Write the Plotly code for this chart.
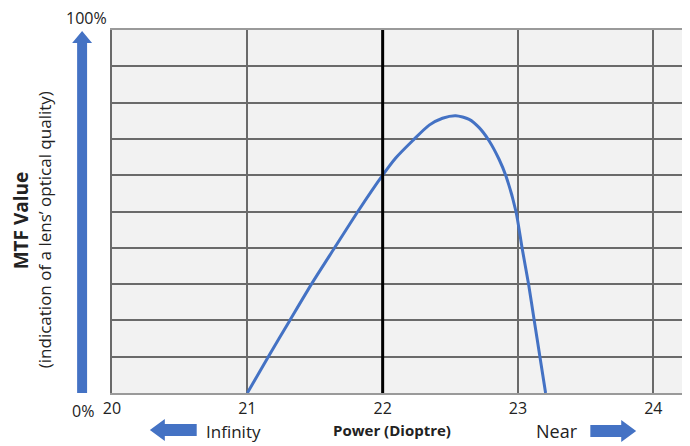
import plotly.graph_objects as go

# ---- data ----
power = [21.0, 21.155, 21.314, 21.474, 21.645, 21.817, 22.0, 22.098, 22.221, 22.344,
         22.442, 22.54, 22.639, 22.713, 22.786, 22.86, 22.909, 22.985, 23.03,
         23.078, 23.12, 23.162, 23.204]
mtf = [0, 10, 20, 30, 40, 50, 60, 64.8, 69.5, 73.8,
       75.7, 76.4, 75.4, 73.1, 69.5, 64.4, 60, 50, 40,
       30, 20, 10, 0]
x_ticks = [20, 21, 22, 23, 24]
highlight_power = 22

# ---- geometry (window pixels; page body has an 8px margin) ----
OFF = 8
W, H = 690 - OFF, 446 - OFF
L, T = 112 - OFF, 30 - OFF
B = H - (393 - OFF)
R = 0
PW, PH = W - L - R, H - T - B


def px(x):
    return (x - OFF - L) / PW


def py(y):
    return (H - B - (y - OFF)) / PH


BLUE = "#4472C4"
FONT = "Open Sans"
TXT = "#222222"

fig = go.Figure()
fig.add_trace(go.Scatter(x=power, y=mtf, mode="lines",
                         line=dict(color=BLUE, width=3, shape="spline", smoothing=0.7),
                         hoverinfo="skip", showlegend=False))

fig.add_shape(type="line", xref="x", yref="paper", x0=highlight_power, x1=highlight_power,
              y0=0, y1=1, line=dict(color="black", width=3), layer="above")


def arrow_path(pts):
    return "M " + " L ".join(f"{px(a):.5f},{py(b):.5f}" for a, b in pts) + " Z"


shapes_pts = [
    # up arrow
    [(77, 393), (77, 43), (72, 43), (82, 31), (92, 43), (87, 43), (87, 393)],
    # left arrow
    [(197, 424), (165, 424), (165, 419), (150, 430), (165, 441), (165, 436), (197, 436)],
    # right arrow
    [(592, 425), (623, 425), (623, 420), (638, 431), (623, 442), (623, 437), (592, 437)],
]
for pts in shapes_pts:
    fig.add_shape(type="path", xref="paper", yref="paper", path=arrow_path(pts),
                  fillcolor=BLUE, line=dict(width=0))

ann = [
    dict(text="100%", x=86, y=18, size=16, angle=0),
    dict(text="0%", x=83, y=411, size=16, angle=0),
    dict(text="Infinity", x=234, y=431, size=17, angle=0),
    dict(text="Near", x=559, y=431, size=18, angle=0),
    dict(text="<b>Power (Dioptre)</b>", x=393, y=430, size=15, angle=0),
    dict(text="<b>MTF Value</b>", x=21, y=220, size=19, angle=-90),
    dict(text="(indication of a lens’ optical quality)", x=44, y=230, size=17, angle=-90),
]
for a in ann:
    fig.add_annotation(text=a["text"], x=px(a["x"]), y=py(a["y"]), xref="paper", yref="paper",
                       showarrow=False, textangle=a["angle"], xanchor="center", yanchor="middle",
                       font=dict(family=FONT, size=a["size"], color=TXT))

grid_color = "#6a6a6a"
fig.update_xaxes(range=[20, 20 + (690 - 112) / 135.8], tickvals=x_ticks,
                 ticktext=[str(v) for v in x_ticks],
                 showgrid=True, gridcolor=grid_color, gridwidth=1.7, zeroline=False,
                 showline=True, linecolor="#9a9a9a", linewidth=1.5, mirror=True,
                 ticks="", tickfont=dict(family=FONT, size=16, color=TXT),
                 ticklabelstandoff=0)
fig.update_yaxes(range=[0, 100], dtick=10, showticklabels=False,
                 showgrid=True, gridcolor=grid_color, gridwidth=1.7, zeroline=False,
                 showline=True, linecolor=grid_color, linewidth=1.7, mirror=True, ticks="")

fig.update_layout(width=W, height=H, margin=dict(l=L, r=R, t=T, b=B),
                  plot_bgcolor="#f2f2f2", paper_bgcolor="white",
                  font=dict(family=FONT), showlegend=False)

fig.write_html("out.html")
